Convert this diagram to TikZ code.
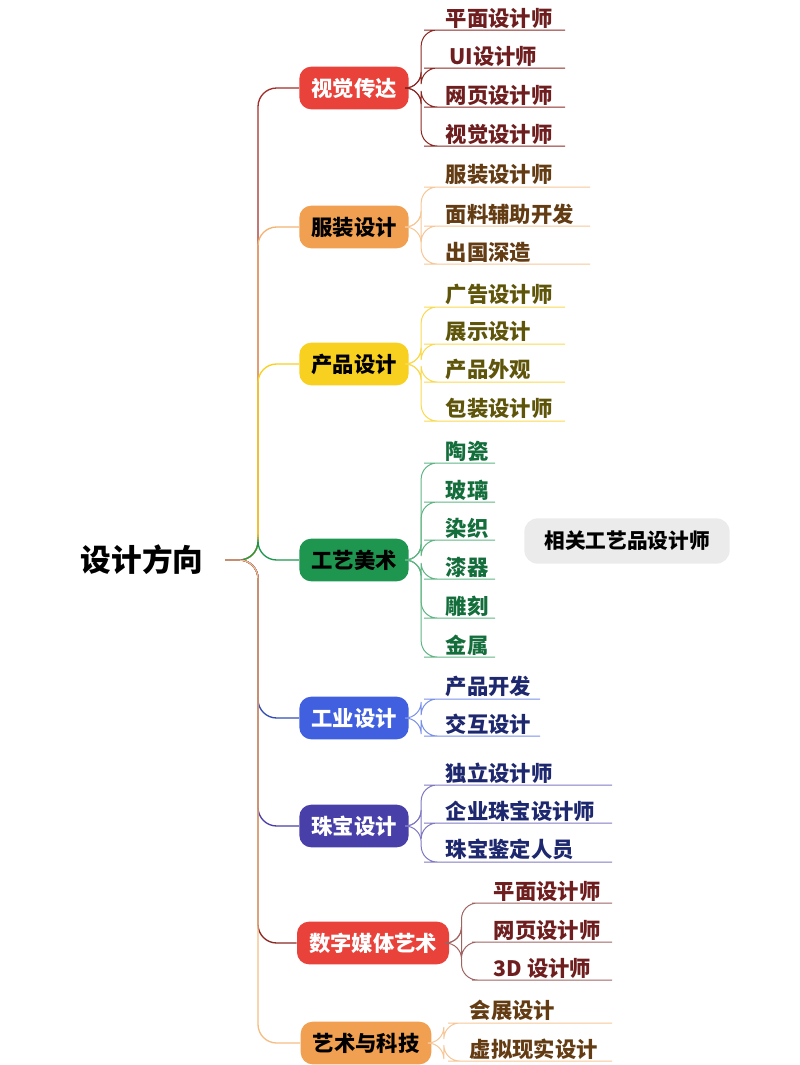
\documentclass[tikz,border=0pt]{standalone}
\usepackage{fontspec}
\setmainfont{Noto Sans CJK SC}
\usetikzlibrary{positioning}
\definecolor{cRed}{RGB}{232,66,58}
\definecolor{cOrange}{RGB}{240,160,80}
\definecolor{cYellow}{RGB}{248,208,32}
\definecolor{cGreen}{RGB}{30,150,80}
\definecolor{cBlue}{RGB}{64,96,224}
\definecolor{cIndigo}{RGB}{72,64,168}
\definecolor{tRed}{RGB}{110,30,30}
\definecolor{tBrown}{RGB}{100,60,20}
\definecolor{tOlive}{RGB}{95,85,10}
\definecolor{tGreen}{RGB}{20,110,60}
\definecolor{tNavy}{RGB}{30,40,110}
\tikzset{every picture/.style={line width=0.75pt}}
\tikzset{
  branchbox/.style={fill=#1, rounded corners=9pt, text=white, font=\bfseries\fontsize{16}{18}\selectfont, minimum height=32pt, inner xsep=9pt},
  leafnode/.style={anchor=south west, inner xsep=4pt, inner ysep=1pt, text=#1, font=\bfseries\fontsize{16}{18}\selectfont, align=left},
  spine/.style={draw=#1, rounded corners=14pt, line width=1pt},
}
\begin{document}
\begin{tikzpicture}[x=0.75pt,y=0.75pt,yscale=-1,xscale=1]
\useasboundingbox (0,0) rectangle (800,1065);

% Root
\node (root) at (142,560) {\bfseries\fontsize{23}{26}\selectfont 设计方向};
\coordinate (rootout) at (225,560);

% Branches
\node[branchbox=cRed] (b1) at (354,88) {视觉传达};
\node[branchbox=cOrange, text=black] (b2) at (354,227) {服装设计};
\node[branchbox=cYellow, text=black] (b3) at (354,364) {产品设计};
\node[branchbox=cGreen, text=black] (b4) at (354,560) {工艺美术};
\node[branchbox=cBlue] (b5) at (354,718) {工业设计};
\node[branchbox=cIndigo] (b6) at (354,826) {珠宝设计};
\node[branchbox=cRed] (b7) at (373,943) {数字媒体艺术};
\node[branchbox=cOrange, text=black] (b8) at (366,1043) {艺术与科技};

% Spine connectors
\foreach \b/\c in {b1/cRed!70!black,b2/cOrange!80,b3/cYellow,b4/cGreen,b5/cBlue!80!black,b6/cIndigo,b7/cRed!60!black,b8/cOrange!70} {
  \draw[spine=\c] (rootout) -- (258,560) |- (\b.west);
}

% Leaves: branch / colour / text colour / x start / x end / underline y / text
\foreach \b/\c/\t/\xs/\xe/\y/\txt [count=\i] in {
  b1/cRed!60!black/tRed/440/565/30/平面设计师,
  b1/cRed!60!black/tRed/440/565/68/{\,UI设计师},
  b1/cRed!60!black/tRed/440/565/107/网页设计师,
  b1/cRed!60!black/tRed/440/565/146/视觉设计师,
  b2/cOrange!60/tBrown/440/590/187/服装设计师,
  b2/cOrange!60/tBrown/440/590/226/面料辅助开发,
  b2/cOrange!60/tBrown/440/590/264/出国深造,
  b3/cYellow!80/tOlive/440/565/307/广告设计师,
  b3/cYellow!80/tOlive/440/565/344/展示设计,
  b3/cYellow!80/tOlive/440/565/382/产品外观,
  b3/cYellow!80/tOlive/440/565/421/包装设计师,
  b4/cGreen!70/tGreen/440/495/463/陶瓷,
  b4/cGreen!70/tGreen/440/495/502/玻璃,
  b4/cGreen!70/tGreen/440/495/540/染织,
  b4/cGreen!70/tGreen/440/495/579/漆器,
  b4/cGreen!70/tGreen/440/495/618/雕刻,
  b4/cGreen!70/tGreen/440/495/657/金属,
  b5/cBlue!70/tNavy/440/540/699/产品开发,
  b5/cBlue!70/tNavy/440/540/736/交互设计,
  b6/cIndigo!70/tNavy/440/612/785/独立设计师,
  b6/cIndigo!70/tNavy/440/612/823/企业珠宝设计师,
  b6/cIndigo!70/tNavy/440/612/862/珠宝鉴定人员,
  b7/cRed!50!black!70/tRed/488/612/903/平面设计师,
  b7/cRed!50!black!70/tRed/488/612/942/网页设计师,
  b7/cRed!50!black!70/tRed/488/612/980/3D 设计师,
  b8/cOrange!60/tBrown/464/612/1023/会展设计,
  b8/cOrange!60/tBrown/464/612/1061/虚拟现实设计} {
  \node[leafnode=\t] (l\i) at (\xs,\y) {\txt};
  \coordinate (e\i) at (\xe,\y);
  \draw[draw=\c, rounded corners=12pt] (\b.east) -- ++(12,0) |- (l\i.south west) -- (e\i);
}

% Side note
\node[fill=black!8, rounded corners=10pt, minimum width=154pt, minimum height=34pt,
  font=\bfseries\fontsize{15.5}{18}\selectfont] (note) at (627,541) {相关工艺品设计师};

\end{tikzpicture}
\end{document}
